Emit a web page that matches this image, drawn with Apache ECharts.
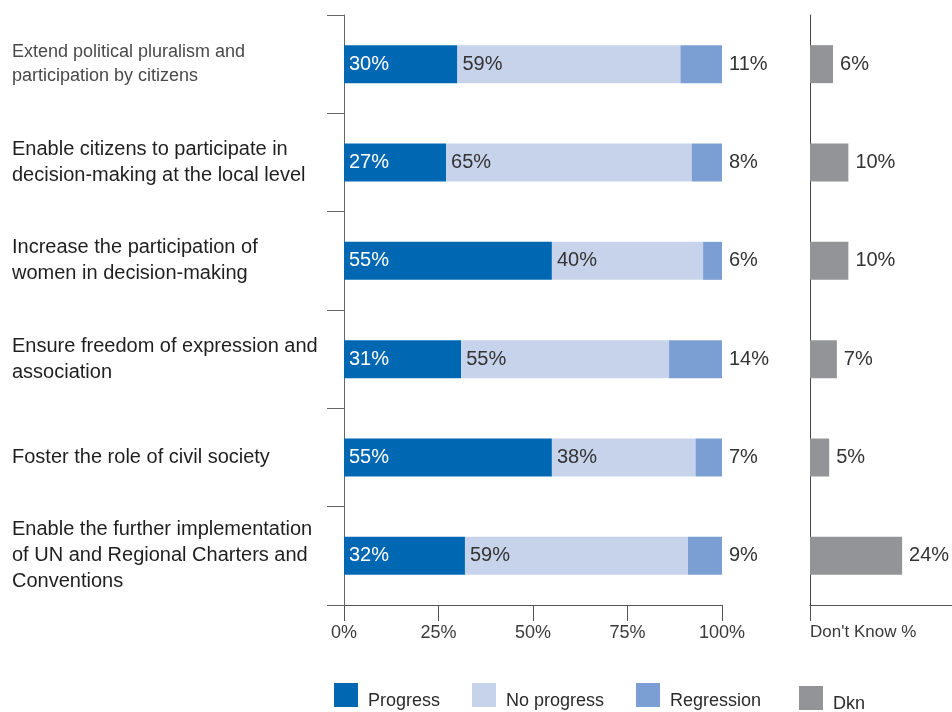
<!DOCTYPE html>
<html>
<head>
<meta charset="utf-8">
<script src="https://cdn.jsdelivr.net/npm/echarts@6/dist/echarts.min.js"></script>
<style>
  html, body { margin: 0; padding: 0; background: #fff; }
  #chart { width: 952px; height: 712px; }
</style>
</head>
<body>
<div id="chart"></div>
<script>
// Objectives assessed, top to bottom
const categories = [
  'Extend political pluralism and\nparticipation by citizens',
  'Enable citizens to participate in\ndecision-making at the local level',
  'Increase the participation of\nwomen in decision-making',
  'Ensure freedom of expression and\nassociation',
  'Foster the role of civil society',
  'Enable the further implementation\nof UN and Regional Charters and\nConventions'
];
// Share of answers, in %
const progress   = [30, 27, 55, 31, 55, 32];
const noProgress = [59, 65, 40, 55, 38, 59];
const regression = [11, 8, 6, 14, 7, 9];
const dontKnow   = [6, 10, 10, 7, 5, 24];
const percentTicks = [0, 25, 50, 75, 100];

const FONT = '"Liberation Sans", Arial, sans-serif';
const TEXT = '#2b2b2b';
const COLORS = {
  progress: '#0068b3',
  noProgress: '#c7d3ea',
  regression: '#7c9fd3',
  dkn: '#939497'
};

const chart = echarts.init(document.getElementById('chart'), null, { renderer: 'canvas' });

const valueLabel = (color, position) => ({
  show: true,
  position: position,
  distance: position === 'right' ? 7 : 5,
  color: color,
  fontFamily: FONT,
  fontSize: 20,
  formatter: p => p.value + '%'
});

function legendAt(name, left, top) {
  return {
    data: [name],
    left: left,
    top: top,
    padding: 0,
    icon: 'rect',
    itemWidth: 24,
    itemHeight: 24,
    itemGap: 0,
    selectedMode: false,
    formatter: n => '{t|' + n + '}',
    textStyle: {
      color: TEXT,
      fontFamily: FONT,
      fontSize: 18,
      rich: { t: { fontSize: 18, fontFamily: FONT, color: TEXT, padding: [12, 0, 0, 5] } }
    }
  };
}

chart.setOption({
  animation: false,
  backgroundColor: '#fff',
  textStyle: { fontFamily: FONT },
  grid: [
    { left: 344, right: 230, top: 15, bottom: 107, containLabel: false },
    { left: 810, right: 0, top: 15, bottom: 107, containLabel: false }
  ],
  legend: [
    legendAt('Progress', 334, 683),
    legendAt('No progress', 472, 683),
    legendAt('Regression', 636, 683),
    legendAt('Dkn', 799, 686)
  ],
  xAxis: [
    {
      gridIndex: 0,
      type: 'value',
      min: 0,
      max: 100,
      interval: 25,
      splitLine: { show: false },
      axisLine: { show: true, lineStyle: { color: '#555', width: 1 } },
      axisTick: { show: true, length: 16, lineStyle: { color: '#555' },
                  customValues: percentTicks },
      axisLabel: {
        customValues: percentTicks,
        margin: 19,
        color: '#3a3a3a',
        fontFamily: FONT,
        fontSize: 18,
        formatter: v => v + '%'
      }
    },
    {
      gridIndex: 1,
      type: 'value',
      min: 0,
      max: 37,
      splitLine: { show: false },
      axisLine: { show: true, lineStyle: { color: '#555', width: 1 } },
      axisTick: { show: true, length: 16, lineStyle: { color: '#555' }, customValues: [0] },
      axisLabel: {
        customValues: [0],
        margin: 19,
        align: 'left',
        color: '#3a3a3a',
        fontFamily: FONT,
        fontSize: 17,
        formatter: () => "Don't Know %"
      }
    }
  ],
  yAxis: [
    {
      gridIndex: 0,
      type: 'category',
      inverse: true,
      data: categories,
      axisLine: { show: true, lineStyle: { color: '#666' } },
      axisTick: { show: true, length: 17, lineStyle: { color: '#666' } },
      axisLabel: {
        margin: 332,
        align: 'left',
        formatter: (v, i) => i === 0 ? '{s|' + v.split('\n').join('}\n{s|') + '}'
                                     : '{n|' + v.split('\n').join('}\n{n|') + '}',
        rich: {
          s: { fontSize: 18, lineHeight: 24, color: '#4a4a4a', fontFamily: FONT },
          n: { fontSize: 20, lineHeight: 26, color: '#1f1f1f', fontFamily: FONT }
        }
      }
    },
    {
      gridIndex: 1,
      type: 'category',
      inverse: true,
      data: categories,
      axisLine: { show: true, lineStyle: { color: '#444' } },
      axisTick: { show: false },
      axisLabel: { show: false }
    }
  ],
  series: [
    {
      name: 'Progress',
      type: 'bar',
      stack: 'answers',
      xAxisIndex: 0,
      yAxisIndex: 0,
      barWidth: 38,
      itemStyle: { color: COLORS.progress },
      label: valueLabel('#ffffff', 'insideLeft'),
      data: progress
    },
    {
      name: 'No progress',
      type: 'bar',
      stack: 'answers',
      xAxisIndex: 0,
      yAxisIndex: 0,
      barWidth: 38,
      itemStyle: { color: COLORS.noProgress },
      label: valueLabel('#333333', 'insideLeft'),
      data: noProgress
    },
    {
      name: 'Regression',
      type: 'bar',
      stack: 'answers',
      xAxisIndex: 0,
      yAxisIndex: 0,
      barWidth: 38,
      itemStyle: { color: COLORS.regression },
      label: valueLabel('#333333', 'right'),
      data: regression
    },
    {
      name: 'Dkn',
      type: 'bar',
      xAxisIndex: 1,
      yAxisIndex: 1,
      barWidth: 38,
      itemStyle: { color: COLORS.dkn },
      label: valueLabel('#333333', 'right'),
      data: dontKnow
    }
  ]
});
</script>
</body>
</html>
